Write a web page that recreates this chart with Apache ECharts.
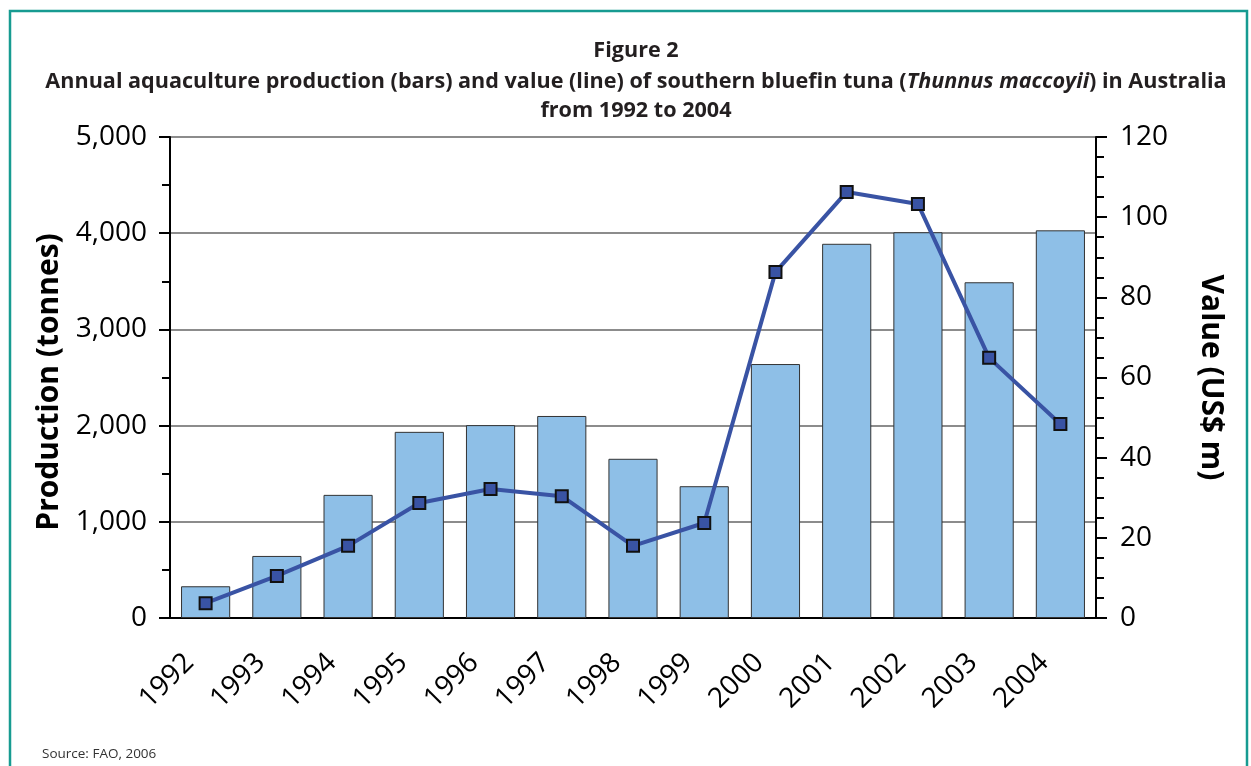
<!DOCTYPE html>
<html>
<head>
<meta charset="utf-8">
<script src="https://cdn.jsdelivr.net/npm/echarts@6/dist/echarts.min.js"></script>
<style>html,body{margin:0;padding:0;background:#fff}#c{width:1251px;height:766px}</style>
</head>
<body>
<div id="c"></div>
<script>
const years = ['1992','1993','1994','1995','1996','1997','1998','1999','2000','2001','2002','2003','2004'];
const production = [330, 645, 1280, 1935, 2005, 2100, 1655, 1370, 2640, 3890, 4010, 3490, 4030];
const valueUSD = [3.7, 10.5, 18.0, 28.7, 32.2, 30.4, 18.0, 23.7, 86.3, 106.3, 103.3, 64.9, 48.4];

const FONT = '"Open Sans", "Noto Sans", sans-serif';
const TITLE_SIZE = 21.6;
const TITLE_COLOR = '#231f20';
const titleRich = {
  b: {fontSize: TITLE_SIZE, fontWeight: 'bold', fill: TITLE_COLOR, fontFamily: FONT},
  i: {fontSize: TITLE_SIZE, fontWeight: 'bold', fontStyle: 'italic', fill: TITLE_COLOR, fontFamily: FONT}
};
function titleText(text, y) {
  return {type: 'text', x: 636, y: y, style: {text: text, rich: titleRich, align: 'center', verticalAlign: 'middle',
    font: 'bold ' + TITLE_SIZE + 'px ' + FONT, fill: TITLE_COLOR}};
}
const chart = echarts.init(document.getElementById('c'), null, {renderer: 'canvas'});
chart.setOption({
  animation: false,
  backgroundColor: '#fff',
  textStyle: {fontFamily: FONT},
  graphic: [
    {type: 'rect', shape: {x: 10, y: 11, width: 1237, height: 800}, style: {fill: 'none', stroke: '#179b91', lineWidth: 2.5}, z: -1},
    {type: 'text', left: 42, top: 747, style: {text: 'Source: FAO, 2006', font: '13.5px ' + FONT, fill: '#333'}},
    titleText('{b|Figure 2}', 51),
    titleText('{b|Annual aquaculture production (bars) and value (line) of southern bluefin tuna (}{i|Thunnus maccoyii}{b|) in Australia}', 82),
    titleText('{b|from 1992 to 2004}', 111)
  ],
  grid: {left: 170, right: 155, top: 137, bottom: 148, containLabel: false},
  xAxis: {
    type: 'category', data: years,
    axisLine: {lineStyle: {color: '#000', width: 2}},
    axisTick: {show: false},
    axisLabel: {rotate: 45, fontSize: 28, color: '#000', margin: 24, padding: [0, 23, 0, 0], fontFamily: FONT}
  },
  yAxis: [
    {type: 'value', min: 0, max: 5000, interval: 1000, position: 'left',
     name: 'Production (tonnes)', nameLocation: 'middle', nameGap: 105,
     nameTextStyle: {fontSize: 30, fontWeight: 'bold', color: '#000', fontFamily: FONT, padding: [0, 9, 0, 0]},
     axisLine: {show: true, lineStyle: {color: '#000', width: 2}},
     axisTick: {show: true, length: 11, lineStyle: {color: '#000', width: 2}},
     minorTick: {show: true, splitNumber: 2, length: 8, lineStyle: {color: '#000', width: 2}},
     axisLabel: {fontSize: 28, color: '#000', margin: 23, fontFamily: FONT,
       formatter: v => v.toLocaleString('en-US')},
     splitLine: {show: true, lineStyle: {color: '#8c8c8c', width: 2}}},
    {type: 'value', min: 0, max: 120, interval: 20, position: 'right',
     name: 'Value (US$ m)', nameLocation: 'middle', nameGap: 100, nameRotate: -90,
     nameTextStyle: {fontSize: 30, fontWeight: 'bold', color: '#000', fontFamily: FONT},
     axisLine: {show: true, lineStyle: {color: '#000', width: 2}},
     axisTick: {show: true, length: 11, lineStyle: {color: '#000', width: 2}},
     minorTick: {show: true, splitNumber: 4, length: 8, lineStyle: {color: '#000', width: 2}},
     axisLabel: {fontSize: 28, color: '#000', margin: 24, fontFamily: FONT},
     splitLine: {show: false}}
  ],
  series: [
    {type: 'bar', data: production, yAxisIndex: 0, barCategoryGap: '31%',
     itemStyle: {color: '#8ebfe7', borderColor: '#333', borderWidth: 1}},
    {type: 'line', data: valueUSD, yAxisIndex: 1, symbol: 'rect', symbolSize: 12,
     lineStyle: {color: '#3953a4', width: 4},
     itemStyle: {color: '#3953a4', borderColor: '#111', borderWidth: 2}, z: 5}
  ]
});
</script>
</body>
</html>
